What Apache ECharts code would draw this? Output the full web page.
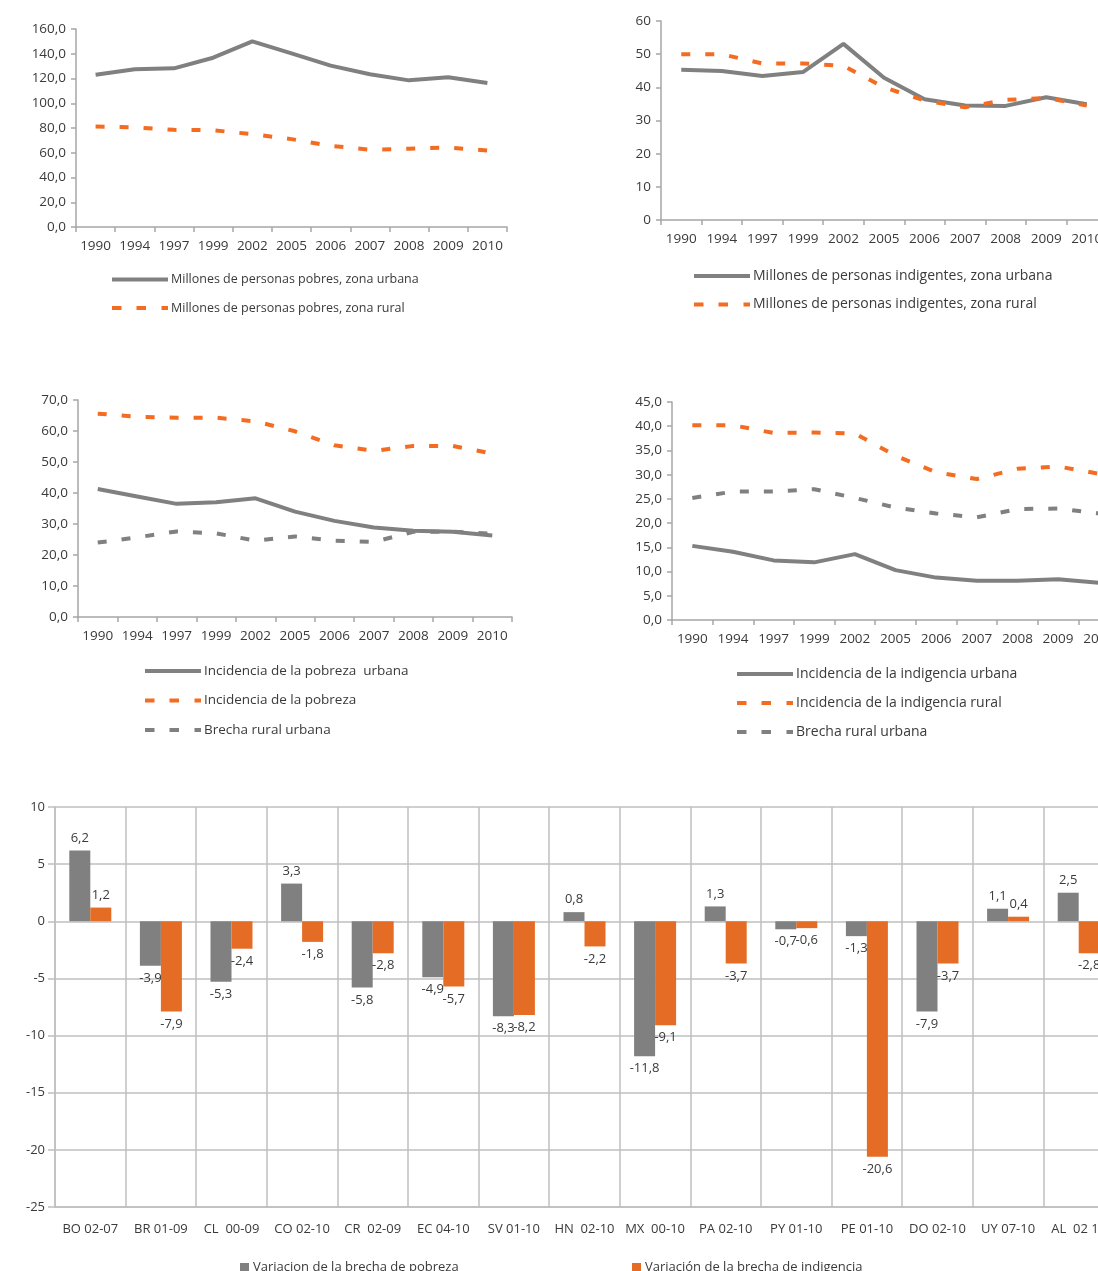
<!DOCTYPE html>
<html>
<head>
<meta charset="utf-8">
<script src="https://cdn.jsdelivr.net/npm/echarts@6/dist/echarts.min.js"></script>
<style>
html,body{margin:0;padding:0;overflow:hidden;background:#fff;}
#c{width:1140px;height:1271px;}
</style>
</head>
<body>
<div id="c"></div>
<script>
// ---------- DATA ----------
const years = ['1990','1994','1997','1999','2002','2005','2006','2007','2008','2009','2010'];

// Chart 1: millones de personas pobres
const pobresUrbana = [123, 127.4, 128.2, 136.8, 150, 140.3, 130.4, 123.4, 118.5, 121, 116.4];
const pobresRural  = [81.2, 80.4, 78.5, 78.2, 75, 71, 65.6, 62.4, 63.2, 64.2, 61.8];

// Chart 2: millones de personas indigentes
const indigUrbana = [45.3, 44.9, 43.4, 44.6, 53.1, 42.9, 36.4, 34.5, 34.4, 37, 34.9];
const indigRural  = [50, 50, 47.2, 47.2, 46.5, 40, 36, 34, 36.2, 36.8, 34.5];

// Chart 3: incidencia de la pobreza
const incPobUrbana = [41.3, 38.9, 36.5, 37, 38.3, 34, 31, 28.9, 27.8, 27.5, 26.3];
const incPobRural  = [65.6, 64.6, 64.3, 64.3, 63.1, 59.9, 55.4, 53.6, 55.2, 55.2, 52.7];
const brechaPob    = [24, 25.7, 27.6, 27, 24.6, 26, 24.6, 24.2, 27.5, 27.5, 26.9];

// Chart 4: incidencia de la indigencia
const incIndUrbana = [15.3, 14.1, 12.3, 11.9, 13.6, 10.3, 8.75, 8.1, 8.1, 8.4, 7.7];
const incIndRural  = [40.2, 40.2, 38.6, 38.7, 38.5, 33.9, 30.5, 29.1, 31.2, 31.7, 30.2];
const brechaInd    = [25.2, 26.5, 26.5, 27, 25.2, 23.2, 22, 21.2, 22.9, 23, 22];

// Chart 5: variación de las brechas
const paises = ['BO 02-07','BR 01-09','CL  00-09','CO 02-10','CR  02-09','EC 04-10','SV 01-10','HN  02-10','MX  00-10','PA 02-10','PY 01-10','PE 01-10','DO 02-10','UY 07-10','AL  02 10'];
const varBrechaPobreza    = [6.2, -3.9, -5.3, 3.3, -5.8, -4.9, -8.3, 0.8, -11.8, 1.3, -0.7, -1.3, -7.9, 1.1, 2.5];
const varBrechaIndigencia = [1.2, -7.9, -2.4, -1.8, -2.8, -5.7, -8.2, -2.2, -9.1, -3.7, -0.6, -20.6, -3.7, 0.4, -2.8];

// Names
const n1a = 'Millones de personas pobres, zona urbana';
const n1b = 'Millones de personas pobres, zona rural';
const n2a = 'Millones de personas indigentes, zona urbana';
const n2b = 'Millones de personas indigentes, zona rural';
const n3a = 'Incidencia de la pobreza  urbana';
const n3b = 'Incidencia de la pobreza';
const n3c = 'Brecha rural urbana';
const n4a = 'Incidencia de la indigencia urbana';
const n4b = 'Incidencia de la indigencia rural';
const n4c = 'Brecha rural urbana ';
const nb1 = 'Variacion de la brecha de pobreza';
const nb2 = 'Variación de la brecha de indigencia';

// ---------- STYLE ----------
const FONT = 'Open Sans';
const GRAY = '#808080';
const ORANGE = '#F36C21';
const BAR_ORANGE = '#E46C25';
const AXIS = '#a6a6a6';
const TXT = '#3a3a3a';
const comma1 = v => v.toFixed(1).replace('.', ',');
const ICON_SOLID = 'path://M0,0h56v4h-56z';
const ICON_DASH  = 'path://M0,0h9.5v4h-9.5zM24.5,0h9.5v4h-9.5zM49.5,0h6.5v4h-6.5z';

function xCat(gridIndex){
  return {
    type:'category', gridIndex, data: years, boundaryGap:true,
    axisLine:{lineStyle:{color:AXIS,width:1.5}},
    axisTick:{show:true,length:5,lineStyle:{color:AXIS,width:1.5}},
    axisLabel:{color:TXT,fontFamily:FONT,fontSize:13.5,margin:12,interval:0},
    splitLine:{show:false}
  };
}
function yVal(gridIndex,min,max,interval,fmt){
  return {
    type:'value', gridIndex, min, max, interval,
    axisLine:{show:true,lineStyle:{color:AXIS,width:1.5}},
    axisTick:{show:true,length:5,lineStyle:{color:AXIS,width:1.5}},
    axisLabel:{color:TXT,fontFamily:FONT,fontSize:13.5,margin:10,formatter:fmt},
    splitLine:{show:false}
  };
}
function line(name,data,idx,color,dashed){
  return {
    name, type:'line', xAxisIndex:idx, yAxisIndex:idx, data,
    symbol:'none', smooth:false, animation:false,
    lineStyle:{color,width:4,type: dashed?[9,15]:'solid', cap:'butt'},
    itemStyle:{color}
  };
}
// items: array of [name, dashed]
function lgd(items,left,top,fs,gap){
  return {
    data: items.map(([name,dashed])=>({name, icon: dashed?ICON_DASH:ICON_SOLID})),
    orient:'vertical', left, top, padding:0, itemWidth:56, itemHeight:4,
    itemGap:gap, selectedMode:false,
    textStyle:{color:TXT,fontFamily:FONT,fontSize:fs,padding:[0,0,0,-2]}
  };
}

const option = {
  animation:false,
  textStyle:{fontFamily:FONT},
  grid:[
    {left:76, top:29, width:431, height:198},
    {left:661, top:21, width:446, height:199},
    {left:78, top:400, width:434, height:217},
    {left:672, top:402, width:447, height:218},
    {left:55, top:807, width:1059, height:400}
  ],
  xAxis:[
    xCat(0), xCat(1), xCat(2), xCat(3),
    {
      type:'category', gridIndex:4, data:paises,
      axisLine:{onZero:false,lineStyle:{color:'#bfbfbf',width:1.5}},
      axisTick:{show:false},
      axisLabel:{color:TXT,fontFamily:FONT,fontSize:13,margin:16,interval:0},
      splitLine:{show:true,lineStyle:{color:'#bfbfbf',width:1.5}}
    }
  ],
  yAxis:[
    yVal(0,0,160,20,comma1),
    yVal(1,0,60,10,v=>String(v)),
    yVal(2,0,70,10,comma1),
    yVal(3,0,45,5,comma1),
    {
      type:'value', gridIndex:4, min:-25, max:10, interval:5,
      axisLine:{show:true,lineStyle:{color:'#bfbfbf',width:1.5}},
      axisTick:{show:true,length:7,lineStyle:{color:'#bfbfbf',width:1.5}},
      axisLabel:{color:TXT,fontFamily:FONT,fontSize:13,margin:10},
      splitLine:{show:true,lineStyle:{color:'#bfbfbf',width:1.5}}
    }
  ],
  legend:[
    lgd([[n1a,false],[n1b,true]],112,273,12.5,15.5),
    lgd([[n2a,false],[n2b,true]],694,269,14,14.5),
    lgd([[n3a,false],[n3b,true],[n3c,true]],145,664,13.5,15.5),
    lgd([[n4a,false],[n4b,true],[n4c,true]],737,667,14,15),
    {data:[nb1],left:240,top:1261,padding:0,itemWidth:9,itemHeight:9,icon:'rect',selectedMode:false,
     textStyle:{color:TXT,fontFamily:FONT,fontSize:13,padding:[0,0,0,-1]}},
    {data:[nb2],left:632,top:1261,padding:0,itemWidth:9,itemHeight:9,icon:'rect',selectedMode:false,
     textStyle:{color:TXT,fontFamily:FONT,fontSize:13,padding:[0,0,0,-1]}}
  ],
  series:[
    line(n1a,pobresUrbana,0,GRAY,false),
    line(n1b,pobresRural,0,ORANGE,true),
    line(n2a,indigUrbana,1,GRAY,false),
    line(n2b,indigRural,1,ORANGE,true),
    line(n3a,incPobUrbana,2,GRAY,false),
    line(n3b,incPobRural,2,ORANGE,true),
    line(n3c,brechaPob,2,GRAY,true),
    line(n4a,incIndUrbana,3,GRAY,false),
    line(n4b,incIndRural,3,ORANGE,true),
    line(n4c,brechaInd,3,GRAY,true),
    {
      name:nb1, type:'bar', xAxisIndex:4, yAxisIndex:4, barWidth:21, barGap:'0%',
      itemStyle:{color:GRAY},
      data: varBrechaPobreza.map(v=>({value:v,label:{position:v<0?'bottom':'top'}})),
      label:{show:true,color:TXT,fontFamily:FONT,fontSize:13,distance:6,formatter:p=>String(p.value).replace('.',',')}
    },
    {
      name:nb2, type:'bar', xAxisIndex:4, yAxisIndex:4, barWidth:21, barGap:'0%',
      itemStyle:{color:BAR_ORANGE},
      data: varBrechaIndigencia.map(v=>({value:v,label:{position:v<0?'bottom':'top'}})),
      label:{show:true,color:TXT,fontFamily:FONT,fontSize:13,distance:6,formatter:p=>String(p.value).replace('.',',')}
    }
  ]
};

const chart = echarts.init(document.getElementById('c'), null, {renderer:'canvas'});
chart.setOption(option);
</script>
</body>
</html>
